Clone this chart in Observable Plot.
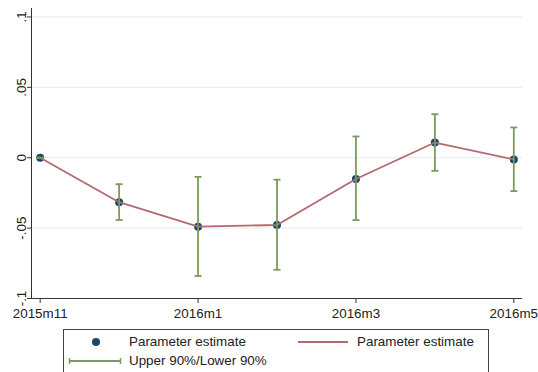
<!DOCTYPE html>
<html>
<head>
<meta charset="utf-8">
<script src="https://cdn.jsdelivr.net/npm/d3@7"></script>
<script src="https://cdn.jsdelivr.net/npm/@observablehq/plot@0.6"></script>
<style>
  html, body { margin: 0; padding: 0; background: #fff; overflow: hidden; }
  body { width: 538px; height: 372px; position: relative; font-family: "Liberation Sans", Arial, sans-serif; }
  #chart svg { display: block; }
  #legend { position: absolute; left: 63px; top: 329px; width: 424px; height: 60px; border: 1px solid #444; box-sizing: content-box; }
  #legend .lab { position: absolute; font-size: 13.4px; line-height: 16px; color: #222; white-space: nowrap; }
  #legend svg { position: absolute; left: 0; top: 0; }
</style>
</head>
<body>
<div id="chart"></div>
<div id="legend"></div>
<script>
const months = ["2015m11", "2015m12", "2016m1", "2016m2", "2016m3", "2016m4", "2016m5"];
const estimate = [0, -0.0316, -0.049, -0.0478, -0.0151, 0.0108, -0.0012];
const upper90 = [0, -0.0188, -0.0136, -0.0156, 0.0151, 0.0309, 0.0215];
const lower90 = [0, -0.0442, -0.084, -0.0796, -0.0443, -0.0093, -0.0237];
const xTickLabels = ["2015m11", "2016m1", "2016m3", "2016m5"];
const yTicks = [-0.1, -0.05, 0, 0.05, 0.1];
const yTickLabels = ["-.1", "-.05", "0", ".05", ".1"];
const legendLabels = ["Parameter estimate", "Parameter estimate", "Upper 90%/Lower 90%"];

const navy = "#1a476f";
const maroon = "#b5686d";
const green = "#7c9a5a";
const gridColor = "#e8f0f1";
const axisColor = "#333";

const rows = months.map((m, i) => ({i, m, est: estimate[i], hi: upper90[i], lo: lower90[i]}));
const xTickIdx = xTickLabels.map(l => months.indexOf(l));
const xDomain = [-0.11, 6.11];

const cap = {
  draw(context, size) {
    const r = Math.sqrt(size / Math.PI);
    context.moveTo(-r, 0);
    context.lineTo(r, 0);
  }
};

const chart = Plot.plot({
  width: 538,
  height: 325,
  marginLeft: 31,
  marginRight: 16,
  marginTop: 8,
  marginBottom: 27,
  style: {fontFamily: "'Liberation Sans', Arial, sans-serif", fontSize: "13.4px", color: "#222", background: "white"},
  x: {type: "linear", domain: xDomain, axis: null, label: null},
  y: {domain: [-0.1, 0.106], axis: null, label: null},
  marks: [
    Plot.ruleY(yTicks.filter(v => v > -0.1), {stroke: gridColor, strokeWidth: 1.3}),
    Plot.ruleX([xDomain[0]], {stroke: axisColor, strokeWidth: 1}),
    Plot.ruleY([yTicks[0]], {stroke: axisColor, strokeWidth: 1}),
    Plot.axisX(xTickIdx, {tickSize: 5, tickPadding: 5, tickFormat: i => months[i], stroke: axisColor, fill: "#222", label: null}),
    Plot.axisY(yTicks, {tickSize: 4, tickFormat: () => "", stroke: axisColor, label: null}),
    Plot.text(yTicks, {y: d => d, text: (d, i) => yTickLabels[i], frameAnchor: "left", dx: -10, rotate: -90, textAnchor: "middle", lineAnchor: "middle", fill: "#222"}),
    Plot.dot(rows, {x: "i", y: "est", r: 4, fill: navy, stroke: null}),
    Plot.line(rows, {x: "i", y: "est", stroke: maroon, strokeWidth: 1.8}),
    Plot.ruleX(rows, {x: "i", y1: "lo", y2: "hi", stroke: green, strokeWidth: 1.8}),
    Plot.dot(rows, {x: "i", y: "hi", symbol: cap, r: 3.5, fill: "none", stroke: green, strokeWidth: 1.8}),
    Plot.dot(rows, {x: "i", y: "lo", symbol: cap, r: 3.5, fill: "none", stroke: green, strokeWidth: 1.8})
  ]
});
document.getElementById("chart").appendChild(chart);

// Legend (HTML below the SVG)
const legend = document.getElementById("legend");
const ns = "http://www.w3.org/2000/svg";
const sw = document.createElementNS(ns, "svg");
sw.setAttribute("width", 424);
sw.setAttribute("height", 60);
function el(name, attrs) {
  const e = document.createElementNS(ns, name);
  for (const k in attrs) e.setAttribute(k, attrs[k]);
  sw.appendChild(e);
}
el("circle", {cx: 32, cy: 12, r: 4, fill: navy});
el("line", {x1: 234, x2: 284, y1: 12, y2: 12, stroke: maroon, "stroke-width": 1.8});
el("line", {x1: 5, x2: 57, y1: 31, y2: 31, stroke: green, "stroke-width": 1.8});
el("line", {x1: 5.5, x2: 5.5, y1: 28, y2: 34, stroke: green, "stroke-width": 1.5});
el("line", {x1: 56.5, x2: 56.5, y1: 28, y2: 34, stroke: green, "stroke-width": 1.5});
legend.appendChild(sw);
const labPos = [[65, 4], [293, 4], [65, 23]];
legendLabels.forEach((t, i) => {
  const s = document.createElement("span");
  s.className = "lab";
  s.textContent = t;
  s.style.left = labPos[i][0] + "px";
  s.style.top = labPos[i][1] + "px";
  legend.appendChild(s);
});
</script>
</body>
</html>
